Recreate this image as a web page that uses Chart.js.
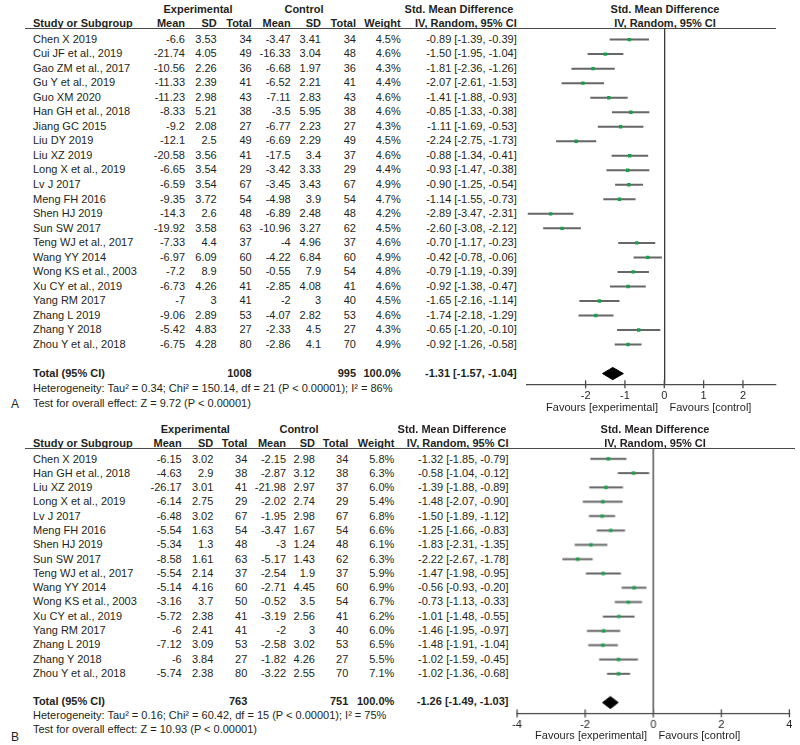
<!DOCTYPE html>
<html><head><meta charset="utf-8">
<script src="https://cdn.jsdelivr.net/npm/chart.js@4.4.1/dist/chart.umd.min.js"></script>
<style>
body{margin:0;background:#fff}
#page{position:relative;width:800px;height:745px;overflow:hidden;font-family:"Liberation Sans",Arial,sans-serif;font-size:11px;color:#231f20;background:#fff}
.t{position:absolute;white-space:nowrap;line-height:13px}
.b{font-weight:bold}
.hl{position:absolute;height:0;border-top:1.3px solid #4a4a4a}
.cw{position:absolute}
</style></head><body><div id="page"></div>
<script>
// ---------- Panel A data ----------
const studiesA = ["Chen X 2019","Cui JF et al., 2019","Gao ZM et al., 2017","Gu Y et al., 2019","Guo XM 2020","Han GH et al., 2018","Jiang GC 2015","Liu DY 2019","Liu XZ 2019","Long X et al., 2019","Lv J 2017","Meng FH 2016","Shen HJ 2019","Sun SW 2017","Teng WJ et al., 2017","Wang YY 2014","Wong KS et al., 2003","Xu CY et al., 2019","Yang RM 2017","Zhang L 2019","Zhang Y 2018","Zhou Y et al., 2018"];
const expMeanA = [-6.6,-21.74,-10.56,-11.33,-11.23,-8.33,-9.2,-12.1,-20.58,-6.65,-6.59,-9.35,-14.3,-19.92,-7.33,-6.97,-7.2,-6.73,-7,-9.06,-5.42,-6.75];
const expSdA   = [3.53,4.05,2.26,2.39,2.98,5.21,2.08,2.5,3.56,3.54,3.54,3.72,2.6,3.58,4.4,6.09,8.9,4.26,3,2.89,4.83,4.28];
const expNA    = [34,49,36,41,43,38,27,49,41,29,67,54,48,63,37,60,50,41,41,53,27,80];
const ctlMeanA = [-3.47,-16.33,-6.68,-6.52,-7.11,-3.5,-6.77,-6.69,-17.5,-3.42,-3.45,-4.98,-6.89,-10.96,-4,-4.22,-0.55,-2.85,-2,-4.07,-2.33,-2.86];
const ctlSdA   = [3.41,3.04,1.97,2.21,2.83,5.95,2.23,2.29,3.4,3.33,3.43,3.9,2.48,3.27,4.96,6.84,7.9,4.08,3,2.82,4.5,4.1];
const ctlNA    = [34,48,36,41,43,38,27,49,37,29,67,54,48,62,37,60,54,41,40,53,27,70];
const weightA  = [4.5,4.6,4.3,4.4,4.6,4.6,4.3,4.5,4.6,4.4,4.9,4.7,4.2,4.5,4.6,4.9,4.8,4.6,4.5,4.6,4.3,4.9];
const smdA     = [-0.89,-1.50,-1.81,-2.07,-1.41,-0.85,-1.11,-2.24,-0.88,-0.93,-0.90,-1.14,-2.89,-2.60,-0.70,-0.42,-0.79,-0.92,-1.65,-1.74,-0.65,-0.92];
const loA      = [-1.39,-1.95,-2.36,-2.61,-1.88,-1.33,-1.69,-2.75,-1.34,-1.47,-1.25,-1.55,-3.47,-3.08,-1.17,-0.78,-1.19,-1.38,-2.16,-2.18,-1.20,-1.26];
const hiA      = [-0.39,-1.04,-1.26,-1.53,-0.93,-0.38,-0.53,-1.73,-0.41,-0.38,-0.54,-0.73,-2.31,-2.12,-0.23,-0.06,-0.39,-0.47,-1.14,-1.29,-0.10,-0.58];
const totalA   = {exp:1008, ctl:995, est:-1.31, lo:-1.57, hi:-1.04};
const hetA     = "Heterogeneity: Tau\u00b2 = 0.34; Chi\u00b2 = 150.14, df = 21 (P < 0.00001); I\u00b2 = 86%";
const testA    = "Test for overall effect: Z = 9.72 (P < 0.00001)";
const ticksA   = [-2,-1,0,1,2];

// ---------- Panel B data ----------
const studiesB = ["Chen X 2019","Han GH et al., 2018","Liu XZ 2019","Long X et al., 2019","Lv J 2017","Meng FH 2016","Shen HJ 2019","Sun SW 2017","Teng WJ et al., 2017","Wang YY 2014","Wong KS et al., 2003","Xu CY et al., 2019","Yang RM 2017","Zhang L 2019","Zhang Y 2018","Zhou Y et al., 2018"];
const expMeanB = [-6.15,-4.63,-26.17,-6.14,-6.48,-5.54,-5.34,-8.58,-5.54,-5.14,-3.16,-5.72,-6,-7.12,-6,-5.74];
const expSdB   = [3.02,2.9,3.01,2.75,3.02,1.63,1.3,1.61,2.14,4.16,3.7,2.38,2.41,3.09,3.84,2.38];
const expNB    = [34,38,41,29,67,54,48,63,37,60,50,41,41,53,27,80];
const ctlMeanB = [-2.15,-2.87,-21.98,-2.02,-1.95,-3.47,-3,-5.17,-2.54,-2.71,-0.52,-3.19,-2,-2.58,-1.82,-3.22];
const ctlSdB   = [2.98,3.12,2.97,2.74,2.98,1.67,1.24,1.43,1.9,4.45,3.5,2.56,3,3.02,4.26,2.55];
const ctlNB    = [34,38,37,29,67,54,48,62,37,60,54,41,40,53,27,70];
const weightB  = [5.8,6.3,6.0,5.4,6.8,6.6,6.1,6.3,5.9,6.9,6.7,6.2,6.0,6.5,5.5,7.1];
const smdB     = [-1.32,-0.58,-1.39,-1.48,-1.50,-1.25,-1.83,-2.22,-1.47,-0.56,-0.73,-1.01,-1.46,-1.48,-1.02,-1.02];
const loB      = [-1.85,-1.04,-1.88,-2.07,-1.89,-1.66,-2.31,-2.67,-1.98,-0.93,-1.13,-1.48,-1.95,-1.91,-1.59,-1.36];
const hiB      = [-0.79,-0.12,-0.89,-0.90,-1.12,-0.83,-1.35,-1.78,-0.95,-0.20,-0.33,-0.55,-0.97,-1.04,-0.45,-0.68];
const totalB   = {exp:763, ctl:751, est:-1.26, lo:-1.49, hi:-1.03};
const hetB     = "Heterogeneity: Tau\u00b2 = 0.16; Chi\u00b2 = 60.42, df = 15 (P < 0.00001); I\u00b2 = 75%";
const testB    = "Test for overall effect: Z = 10.93 (P < 0.00001)";
const ticksB   = [-4,-2,0,2,4];

// ---------- layout ----------
const page = document.getElementById('page');
function T(str, x, y, align, bold, size){
  const d = document.createElement('div');
  d.className = 't' + (bold ? ' b' : '');
  d.textContent = str;
  if (size) d.style.fontSize = size + 'px';
  d.style.top = (y - 6.5) + 'px';
  if (align === 'r') d.style.right = (800 - x) + 'px';
  else if (align === 'c') { d.style.left = x + 'px'; d.style.transform = 'translateX(-50%)'; }
  else d.style.left = x + 'px';
  page.appendChild(d);
}
function HL(x0, x1, y){
  const d = document.createElement('div'); d.className = 'hl';
  d.style.left = x0 + 'px'; d.style.width = (x1 - x0) + 'px'; d.style.top = y + 'px';
  page.appendChild(d);
}
const fmtCI = (e,l,h) => e.toFixed(2) + ' [' + l.toFixed(2) + ', ' + h.toFixed(2) + ']';

const crossTicks = {
  id: 'crossTicks',
  afterDraw(chart){
    const s = chart.scales.x, ctx = chart.ctx, b = chart.chartArea.bottom;
    ctx.save(); ctx.strokeStyle = '#4a4a4a'; ctx.lineWidth = 1.3;
    s.ticks.forEach(t => { const x = s.getPixelForValue(t.value);
      ctx.beginPath(); ctx.moveTo(x, b - 4); ctx.lineTo(x, b + 4); ctx.stroke(); });
    ctx.restore();
  }
};

function panel(d, L){
  T('Experimental', L.expC, L.hdr1, 'c', true);
  T('Control', L.ctlC, L.hdr1, 'c', true);
  T('Std. Mean Difference', L.smd1C, L.hdr1, 'c', true);
  T('Std. Mean Difference', L.smd2C, L.hdr1, 'c', true);
  const c = L.cols;
  T('Study or Subgroup', c[0], L.hdr2, 'l', true);
  ['Mean','SD','Total','Mean','SD','Total','Weight','IV, Random, 95% CI'].forEach((h,k)=>T(h, c[k+1], L.hdr2, 'r', true));
  T('IV, Random, 95% CI', L.smd2C, L.hdr2, 'c', true);
  HL(L.lineX0, L.lineX1, L.line);
  d.studies.forEach((s,i)=>{
    const y = L.rowY0 + i*L.dy;
    T(s, c[0], y, 'l');
    T(String(d.em[i]), c[1], y, 'r'); T(String(d.es[i]), c[2], y, 'r'); T(String(d.en[i]), c[3], y, 'r');
    T(String(d.cm[i]), c[4], y, 'r'); T(String(d.cs[i]), c[5], y, 'r'); T(String(d.cn[i]), c[6], y, 'r');
    T(d.w[i].toFixed(1) + '%', c[7], y, 'r');
    T(fmtCI(d.smd[i], d.lo[i], d.hi[i]), c[8], y, 'r');
  });
  const ty = L.rowY0 + L.totalIdx*L.dy;
  T('Total (95% CI)', c[0], ty, 'l', true);
  T(String(d.tot.exp), c[3], ty, 'r', true);
  T(String(d.tot.ctl), c[6], ty, 'r', true);
  T('100.0%', c[7], ty, 'r', true);
  T(fmtCI(d.tot.est, d.tot.lo, d.tot.hi), c[8], ty, 'r', true);
  T(d.het, c[0], L.hetY, 'l');
  T(d.test, c[0], L.testY, 'l');
  T(L.label, 11, L.labelY, 'l', false, 12);

  const cTop = L.line - 10, cLeft = L.plotL - 30;
  const W = 800 - cLeft, H = L.axisY + 30 - cTop;
  const want = {left:30, right:30 + (L.plotR - L.plotL), top:10, bottom:L.axisY - cTop};
  const wrap = document.createElement('div'); wrap.className = 'cw';
  wrap.style.left = cLeft + 'px'; wrap.style.top = cTop + 'px';
  wrap.style.width = W + 'px'; wrap.style.height = H + 'px';
  const cv = document.createElement('canvas'); cv.width = W; cv.height = H;
  cv.style.width = W + 'px'; cv.style.height = H + 'px';
  wrap.appendChild(cv); page.appendChild(wrap);
  const t = L.totalIdx, hh = 0.42;
  const zeroX = L.plotL + (0 - L.xmin) / (L.xmax - L.xmin) * (L.plotR - L.plotL);

  const ciSets = d.lo.map((l,i)=>({ type:'line', data:[{x:l,y:i},{x:d.hi[i],y:i}],
      borderColor:'#666666', borderWidth:2, pointRadius:0, fill:false, order:3 }));
  const chart = new Chart(cv, {
    type: 'scatter',
    data: { datasets: ciSets.concat([
      { type:'scatter', data: d.smd.map((v,i)=>({x:v, y:i})), pointStyle:'rect', pointRadius:2.4,
        pointHoverRadius:2.4, backgroundColor:'#17a04a', borderWidth:0, order:1 },
      { type:'line', data:[{x:d.tot.lo,y:t},{x:d.tot.est,y:t-hh},{x:d.tot.hi,y:t},{x:d.tot.est,y:t+hh},{x:d.tot.lo,y:t}],
        borderColor:'#000', backgroundColor:'#000', borderWidth:1, pointRadius:0, fill:'shape', tension:0, order:2 }
    ])},
    options: {
      responsive:false, animation:false, events:[],
      layout:{ padding:{ left:30, right:W - want.right, top:10, bottom:0 } },
      plugins:{ legend:{display:false}, tooltip:{enabled:false} },
      scales:{
        x:{ type:'linear', min:L.xmin, max:L.xmax, offset:false,
            afterBuildTicks: s => { s.ticks = L.ticks.map(v=>({value:v})); },
            ticks:{ font:{family:'"Liberation Sans", Arial, sans-serif', size:11}, color:'#231f20', padding:5,
                    callback: v => String(v) },
            grid:{ offset:false, drawTicks:false, drawOnChartArea:true,
                   color: c => (c.tick && c.tick.value === 0) ? '#3a3a3a' : 'rgba(0,0,0,0)', lineWidth:1.3 },
            border:{ display:true, color:'#4a4a4a', width:1.3 } },
        y:{ type:'linear', display:false, reverse:true, offset:false, grid:{offset:false},
            min:(L.line - L.rowY0)/L.dy, max:(L.axisY - L.rowY0)/L.dy }
      }
    },
    plugins:[crossTicks]
  });
  for (let k=0;k<3;k++){
    const ca = chart.chartArea, p = chart.options.layout.padding;
    p.left += want.left - ca.left; p.top += want.top - ca.top;
    p.right += ca.right - want.right; p.bottom += ca.bottom - want.bottom;
    chart.update('none');
  }
  T('Favours [experimental]', zeroX - 6, L.favY, 'r');
  T('Favours [control]', zeroX + 5.5, L.favY, 'l');
}

panel({studies:studiesA, em:expMeanA, es:expSdA, en:expNA, cm:ctlMeanA, cs:ctlSdA, cn:ctlNA, w:weightA,
       smd:smdA, lo:loA, hi:hiA, tot:totalA, het:hetA, test:testA},
      {rowY0:39.3, dy:14.52, hdr1:9, hdr2:23, line:27.7, lineX0:25, lineX1:776,
       cols:[33,185,216.7,251.7,290.7,321,356,400.7,516.7], expC:198, ctlC:304, smd1C:459, smd2C:665,
       totalIdx:23, hetY:388, testY:403, labelY:404, label:'A',
       plotL:526.7, plotR:775.7, xmin:-3.49, xmax:2.84, axisY:384, ticks:ticksA, favY:407});

panel({studies:studiesB, em:expMeanB, es:expSdB, en:expNB, cm:ctlMeanB, cs:ctlSdB, cn:ctlNB, w:weightB,
       smd:smdB, lo:loB, hi:hiB, tot:totalB, het:hetB, test:testB},
      {rowY0:459, dy:14.29, hdr1:429.3, hdr2:443.3, line:448.3, lineX0:25, lineX1:795,
       cols:[33,181.7,213.3,247.3,286,315,348.3,394.3,508.5], expC:195.3, ctlC:299, smd1C:452, smd2C:655,
       totalIdx:17, hetY:715.7, testY:729, labelY:737, label:'B',
       plotL:517.3, plotR:788.7, xmin:-4, xmax:4, axisY:712.7, ticks:ticksB, favY:735});
</script></body></html>
